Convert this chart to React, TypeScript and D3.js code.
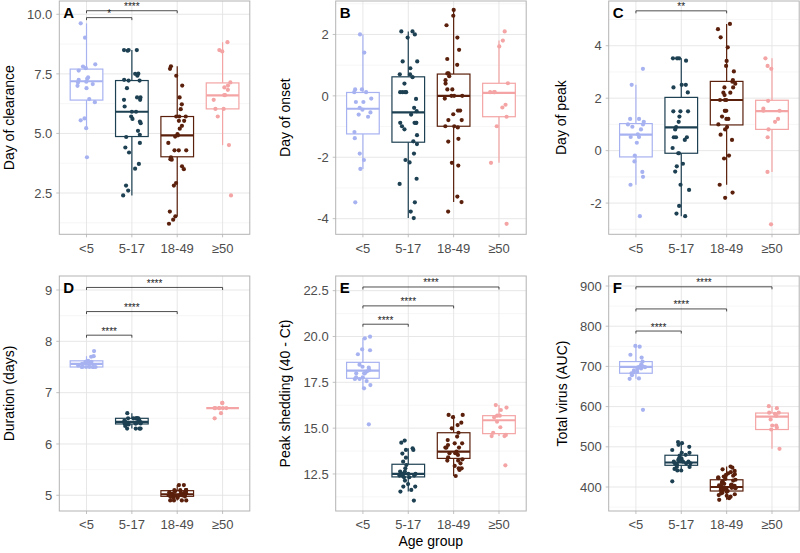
import React from "react";
import * as d3 from "d3";

const AGE_GROUPS = ["<5", "5-17", "18-49", "≥50"];

// ---- Panel A: Day of clearance ----
const clearance = [
  [9.62, 9.02, 7.9, 7.81, 7.74, 7.64, 7.35, 7.29, 7.25, 7.17, 7.14, 7.07, 7.0, 6.9, 6.44, 6.31, 5.63, 5.55, 5.22, 4.0],
  [8.5, 8.47, 8.5, 8.5, 7.51, 7.5, 7.42, 7.25, 7.22, 7.22, 6.9, 6.51, 6.51, 6.41, 6.41, 6.13, 5.91, 5.91, 5.71, 5.61, 5.5, 5.43, 5.11, 4.94, 4.85, 4.6, 4.41, 4.2, 3.72, 3.52, 2.81, 2.6, 2.4],
  [7.82, 7.71, 7.42, 7.01, 6.51, 6.22, 6.02, 5.71, 5.71, 5.71, 5.53, 5.53, 5.32, 5.2, 4.97, 4.92, 4.87, 4.6, 4.29, 4.29, 4.29, 4.0, 3.92, 3.9, 3.62, 3.5, 2.92, 2.81, 1.72, 1.52, 1.38, 1.21],
  [8.83, 8.5, 8.44, 7.14, 7.01, 6.93, 6.83, 6.61, 6.61, 6.41, 6.03, 6.03, 5.71, 4.51, 2.4],
];
// [q1, median, q3, lower whisker, upper whisker]
const clearanceBox = [
  [6.4, 7.19, 7.7, 5.22, 9.62],
  [4.87, 5.91, 7.22, 2.4, 8.5],
  [4.02, 4.92, 5.71, 1.52, 7.82],
  [6.03, 6.6, 7.12, 4.51, 8.83],
];
const clearanceSig = [
  { from: 0, to: 1, y: 9.86, label: "*" },
  { from: 0, to: 2, y: 10.15, label: "****" },
];

// ---- Panel B: Day of onset ----
const onset = [
  [2.0, 1.41, 0.21, 0.21, 0.12, 0.12, -0.09, -0.2, -0.2, -0.39, -0.45, -0.54, -0.61, -0.68, -1.18, -1.38, -1.88, -2.09, -2.38, -3.47],
  [2.1, 2.1, 2.0, 1.9, 1.12, 1.12, 0.9, 0.7, 0.7, 0.61, 0.4, 0.12, 0.12, 0.12, 0.12, -0.1, -0.39, -0.5, -0.61, -0.88, -0.88, -0.88, -0.88, -0.99, -1.09, -1.28, -1.48, -1.57, -1.88, -2.09, -2.17, -2.7, -2.87, -3.47, -3.77, -3.98],
  [2.8, 2.61, 2.3, 1.9, 1.5, 1.2, 1.01, 0.73, 0.73, 0.64, 0.51, 0.4, 0.21, 0.21, 0, 0, 0, -0.09, -0.48, -0.48, -0.6, -0.79, -0.79, -0.99, -0.99, -1.03, -1.4, -1.49, -2.18, -2.27, -3.28, -3.46, -3.77],
  [2.1, 1.8, 1.61, 0.41, 0.12, 0.12, 0.12, -0.29, -0.38, -0.68, -0.99, -2.18, -4.17],
];
const onsetBox = [
  [-1.24, -0.42, 0.11, -2.38, 2.0],
  [-1.51, -0.54, 0.62, -3.98, 2.1],
  [-0.99, 0.0, 0.71, -3.46, 2.8],
  [-0.68, 0.1, 0.41, -2.18, 1.8],
];
const onsetSig: { from: number; to: number; y: number; label: string }[] = [];

// ---- Panel C: Day of peak ----
const peakDay = [
  [3.12, 2.51, 1.21, 1.21, 1.1, 1.0, 1.0, 0.91, 0.81, 0.62, 0.52, 0.52, 0.3, -0.19, -0.41, -0.81, -1.0, -1.3, -2.5],
  [3.52, 3.52, 3.52, 3.43, 2.51, 2.51, 2.41, 2.22, 1.5, 1.5, 1.5, 1.3, 1.1, 0.9, 0.81, 0.51, 0.51, 0.51, 0.41, 0.1, -0.1, -0.1, -0.5, -0.6, -0.8, -1.3, -1.5, -2.11, -2.4, -2.5],
  [4.83, 4.63, 4.32, 3.94, 3.42, 3.23, 3.02, 2.69, 2.63, 2.55, 2.41, 2.41, 2.21, 2.21, 2.12, 1.93, 1.93, 1.93, 1.52, 1.52, 1.52, 1.3, 1.21, 1.21, 1.0, 0.9, 0.81, 0.61, 0.41, -0.19, -0.3, -1.3, -1.6, -1.8],
  [3.52, 3.23, 3.12, 1.9, 1.6, 1.52, 1.52, 1.21, 1.1, 0.81, 0.51, -0.81, -2.81],
];
const peakDayBox = [
  [-0.24, 0.61, 1.03, -1.3, 2.51],
  [-0.1, 0.89, 2.03, -2.5, 3.52],
  [0.98, 1.93, 2.64, -1.3, 4.83],
  [0.81, 1.51, 1.92, -0.81, 3.52],
];
const peakDaySig = [{ from: 0, to: 2, y: 5.33, label: "**" }];

// ---- Panel D: Duration (days) ----
const duration = [
  [7.81, 7.71, 7.7, 7.62, 7.6, 7.6, 7.6, 7.6, 7.58, 7.56, 7.55, 7.55, 7.53, 7.5, 7.5, 7.5, 7.5, 7.5, 7.5, 7.5],
  [6.6, 6.5, 6.5, 6.5, 6.5, 6.5, 6.5, 6.46, 6.45, 6.44, 6.43, 6.42, 6.4, 6.4, 6.4, 6.4, 6.4, 6.38, 6.35, 6.3, 6.3, 6.3, 6.3],
  [5.2, 5.2, 5.1, 5.1, 5.1, 5.1, 5.1, 5.08, 5.06, 5.05, 5.05, 5.04, 5.03, 5.02, 5.0, 5.0, 5.0, 5.0, 5.0, 5.0, 5.0, 4.98, 4.97, 4.95, 4.95, 4.9, 4.9, 4.9, 4.9],
  [6.8, 6.8, 6.7, 6.7, 6.7, 6.7, 6.7, 6.7, 6.6, 6.5],
];
const durationBox = [
  [7.5, 7.56, 7.62, 7.5, 7.71],
  [6.39, 6.43, 6.5, 6.3, 6.6],
  [4.98, 5.02, 5.09, 4.9, 5.2],
  [6.7, 6.7, 6.7, 6.7, 6.7],
];
const durationSig = [
  { from: 0, to: 1, y: 8.12, label: "****" },
  { from: 0, to: 2, y: 8.58, label: "****" },
  { from: 0, to: 3, y: 9.05, label: "****" },
];

// ---- Panel E: Peak shedding (40 - Ct) ----
const shedding = [
  [19.99, 19.9, 19.3, 19.25, 19.03, 18.46, 18.35, 18.3, 18.17, 18.1, 17.99, 17.99, 17.99, 17.77, 17.77, 17.68, 17.68, 17.57, 17.35, 17.17, 15.21],
  [14.32, 14.21, 13.9, 13.81, 13.81, 13.61, 13.39, 13.17, 12.99, 12.81, 12.63, 12.63, 12.5, 12.5, 12.5, 12.5, 12.41, 12.41, 12.41, 12.32, 12.32, 12.14, 11.95, 11.81, 11.81, 11.63, 11.54, 11.05],
  [15.72, 15.72, 15.6, 15.3, 15.17, 14.99, 14.75, 14.54, 14.35, 14.17, 14.17, 14.08, 13.94, 13.94, 13.94, 13.72, 13.63, 13.63, 13.54, 13.41, 13.3, 13.23, 13.23, 13.08, 12.94, 12.81, 12.81, 12.72, 12.39],
  [16.26, 16.12, 15.99, 15.68, 15.68, 15.59, 15.35, 15.05, 14.75, 14.63, 14.57, 14.57, 12.97],
];
const sheddingBox = [
  [17.72, 18.14, 18.59, 17.17, 19.9],
  [12.34, 12.5, 13.03, 11.54, 13.9],
  [13.35, 13.72, 14.75, 12.39, 15.72],
  [14.7, 15.43, 15.68, 14.57, 16.26],
];
const sheddingSig = [
  { from: 0, to: 1, y: 20.67, label: "****" },
  { from: 0, to: 2, y: 21.67, label: "****" },
  { from: 0, to: 3, y: 22.7, label: "****" },
];

// ---- Panel F: Total virus (AUC) ----
const totalVirus = [
  [751, 749, 729, 722, 712, 705, 700, 699, 698, 697, 695, 694, 690, 687, 685, 683, 678, 670, 669, 592],
  [512, 509, 505, 500, 492, 485, 485, 480, 478, 471, 471, 471, 467, 467, 467, 463, 463, 463, 459, 459, 459, 456, 456, 450, 450, 445, 441, 441, 414],
  [451, 448, 444, 440, 437, 434, 432, 430, 428, 426, 424, 422, 420, 418, 416, 414, 412, 410, 408, 406, 405, 404, 403, 402, 401, 400, 399, 398, 397, 396, 395, 394, 392, 390, 388, 386, 384, 382, 380, 378, 376, 372, 368],
  [601, 596, 585, 585, 582, 577, 568, 553, 553, 548, 543, 495],
];
const totalVirusBox = [
  [683, 699, 712, 669, 752],
  [454, 461, 479, 441, 512],
  [390, 400, 418, 368, 451],
  [543, 575, 584, 495, 601],
];
const totalVirusSig = [
  { from: 0, to: 1, y: 788, label: "****" },
  { from: 0, to: 2, y: 843, label: "****" },
  { from: 0, to: 3, y: 898, label: "****" },
];

// ---- styles / layout ----
const COLORS = ["#a7b2f1", "#1d4052", "#5b200c", "#f4a4a4"];
const FONT = "'Liberation Sans', Arial, Helvetica, sans-serif";
const COL_LEFT = [59.3, 335.7, 608.7];
const COL_WIDTH = 190.5;
const ROW_TOP = [1, 276];
const ROW_BOTTOM = [234.3, 511];

const fmt1 = (d: number) => d.toFixed(1);
const fmtInt = (d: number) => String(d);

const PANELS = [
  { letter: "A", title: "Day of clearance", data: clearance, box: clearanceBox, sig: clearanceSig, domain: [0.767, 10.558], ticks: [2.5, 5, 7.5, 10], minor: [1.25, 3.75, 6.25, 8.75], fmt: fmt1, col: 0, row: 0, titleX: 8.5 },
  { letter: "B", title: "Day of onset", data: onset, box: onsetBox, sig: onsetSig, domain: [-4.51, 3.09], ticks: [-4, -2, 0, 2], minor: [-3, -1, 1, 3], fmt: fmtInt, col: 1, row: 0, titleX: 285 },
  { letter: "C", title: "Day of peak", data: peakDay, box: peakDayBox, sig: peakDaySig, domain: [-3.19, 5.705], ticks: [-2, 0, 2, 4], minor: [-3, -1, 1, 3, 5], fmt: fmtInt, col: 2, row: 0, titleX: 561 },
  { letter: "D", title: "Duration (days)", data: duration, box: durationBox, sig: durationSig, domain: [4.694, 9.273], ticks: [5, 6, 7, 8, 9], minor: [5.5, 6.5, 7.5, 8.5], fmt: fmtInt, col: 0, row: 1, titleX: 8.5 },
  { letter: "E", title: "Peak shedding (40 - Ct)", data: shedding, box: sheddingBox, sig: sheddingSig, domain: [10.48, 23.3], ticks: [12.5, 15, 17.5, 20, 22.5], minor: [11.25, 13.75, 16.25, 18.75, 21.25], fmt: fmt1, col: 1, row: 1, titleX: 285 },
  { letter: "F", title: "Total virus (AUC)", data: totalVirus, box: totalVirusBox, sig: totalVirusSig, domain: [340.3, 924.9], ticks: [400, 500, 600, 700, 800, 900], minor: [350, 450, 550, 650, 750, 850], fmt: fmtInt, col: 2, row: 1, titleX: 562 },
];

function jitter(p: number, g: number, i: number) {
  const s = Math.sin((p * 131.7 + g * 17.3 + i * 7.13 + 1.7) * 12.9898) * 43758.5453;
  return (s - Math.floor(s)) * 2 - 1;
}

function Panel({ cfg, pi }: { cfg: (typeof PANELS)[number]; pi: number }) {
  const left = COL_LEFT[cfg.col];
  const right = left + COL_WIDTH;
  const top = ROW_TOP[cfg.row];
  const bottom = ROW_BOTTOM[cfg.row];
  const x = d3.scalePoint<string>().domain(AGE_GROUPS).range([left, right]).padding(0.6);
  const y = d3.scaleLinear().domain(cfg.domain).range([bottom, top]);
  const step = x.step();
  const boxW = step * 0.72;
  const jw = step * 0.2;
  const grid = "#e4e4e4";
  return (
    <g>
      <rect x={left} y={top} width={COL_WIDTH} height={bottom - top} fill="#fff" />
      {cfg.minor.map((t) => (
        <line key={"mi" + t} x1={left} x2={right} y1={y(t)} y2={y(t)} stroke="#f0f0f0" strokeWidth={0.6} />
      ))}
      {cfg.ticks.map((t) => (
        <line key={"ma" + t} x1={left} x2={right} y1={y(t)} y2={y(t)} stroke={grid} strokeWidth={0.9} />
      ))}
      {AGE_GROUPS.map((g) => (
        <line key={"v" + g} x1={x(g)} x2={x(g)} y1={top} y2={bottom} stroke={grid} strokeWidth={0.9} />
      ))}
      {AGE_GROUPS.map((g, gi) => {
        const [q1, med, q3, lo, hi] = cfg.box[gi];
        const cx = x(g)!;
        const c = COLORS[gi];
        return (
          <g key={"b" + g}>
            <line x1={cx} x2={cx} y1={y(q3)} y2={y(hi)} stroke={c} strokeWidth={1.2} />
            <line x1={cx} x2={cx} y1={y(q1)} y2={y(lo)} stroke={c} strokeWidth={1.2} />
            <rect x={cx - boxW / 2} y={y(q3)} width={boxW} height={Math.max(0, y(q1) - y(q3))} fill="#fff" stroke={c} strokeWidth={1.2} />
            <line x1={cx - boxW / 2} x2={cx + boxW / 2} y1={y(med)} y2={y(med)} stroke={c} strokeWidth={2.2} />
          </g>
        );
      })}
      {AGE_GROUPS.map((g, gi) =>
        cfg.data[gi].map((v, i) => (
          <circle key={"p" + g + i} cx={x(g)! + jitter(pi, gi, i) * jw} cy={y(v)} r={2.1} fill={COLORS[gi]} />
        ))
      )}
      <rect x={left} y={top} width={COL_WIDTH} height={bottom - top} fill="none" stroke="#b3b3b3" strokeWidth={1} />
      {cfg.ticks.map((t) => (
        <g key={"yt" + t}>
          <line x1={left - 3} x2={left} y1={y(t)} y2={y(t)} stroke="#b3b3b3" strokeWidth={0.8} />
          <text x={left - 7} y={y(t)} dy="0.36em" textAnchor="end" fontSize={13} fill="#4d4d4d" fontFamily={FONT}>
            {cfg.fmt(t)}
          </text>
        </g>
      ))}
      {AGE_GROUPS.map((g) => (
        <g key={"xt" + g}>
          <line x1={x(g)} x2={x(g)} y1={bottom} y2={bottom + 3} stroke="#b3b3b3" strokeWidth={0.8} />
          <text x={x(g)} y={bottom + 18.3} textAnchor="middle" fontSize={13} fill="#4d4d4d" fontFamily={FONT}>
            {g}
          </text>
        </g>
      ))}
      <text x={left + 4} y={top + 16.5} fontSize={15} fontWeight="bold" fill="#000" fontFamily={FONT}>
        {cfg.letter}
      </text>
      {cfg.sig.map((s, si) => {
        const x1 = x(AGE_GROUPS[s.from])!;
        const x2 = x(AGE_GROUPS[s.to])!;
        const yy = y(s.y);
        return (
          <g key={"s" + si}>
            <path d={`M${x1},${yy + 2.5}V${yy}H${x2}V${yy + 2.5}`} fill="none" stroke="#222" strokeWidth={0.8} />
            <text x={(x1 + x2) / 2} y={yy - 0.5} textAnchor="middle" fontSize={10} fill="#222" fontFamily={FONT}>
              {s.label}
            </text>
          </g>
        );
      })}
      <text
        transform={`translate(${cfg.titleX},${(top + bottom) / 2}) rotate(-90)`}
        dy="0.36em"
        textAnchor="middle"
        fontSize={14}
        fill="#000"
        fontFamily={FONT}
      >
        {cfg.title}
      </text>
    </g>
  );
}

export default function App() {
  return (
    <svg
      width={800}
      height={553}
      viewBox="0 0 800 553"
      style={{ position: "absolute", left: 0, top: 0, display: "block", background: "#fff" }}
    >
      <rect x={0} y={0} width={800} height={553} fill="#fff" />
      {PANELS.map((p, i) => (
        <Panel key={p.letter} cfg={p} pi={i} />
      ))}
      <text x={430.7} y={546} textAnchor="middle" fontSize={14} fill="#000" fontFamily={FONT}>
        Age group
      </text>
    </svg>
  );
}
